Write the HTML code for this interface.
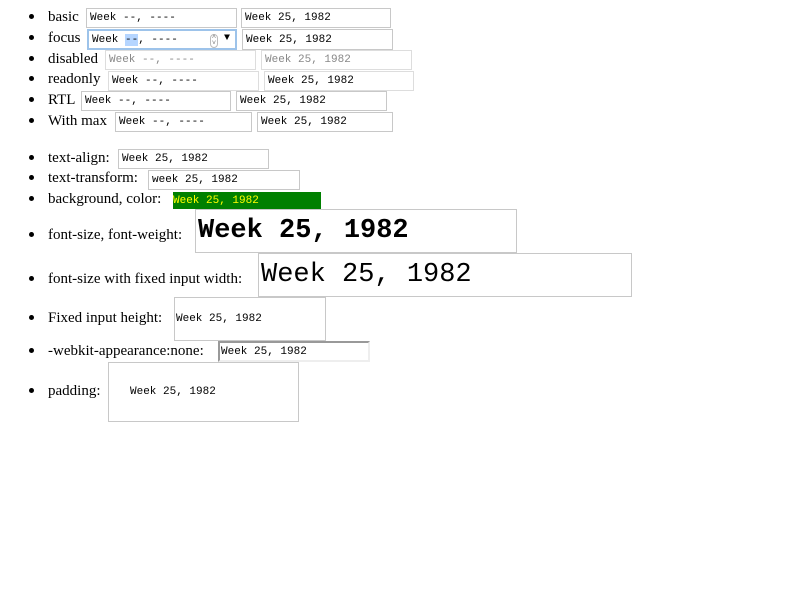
<!DOCTYPE html>
<html><head><meta charset="utf-8"><style>
body{margin:0;width:800px;height:600px;background:#fff;position:relative;overflow:hidden;font-family:"Liberation Serif",serif;font-size:15px;color:#000}
.l{position:absolute;line-height:18px;white-space:nowrap}
.l::before{content:"";position:absolute;left:-19px;top:6px;width:5px;height:5px;border-radius:50%;background:#000}
.b{position:absolute;box-sizing:border-box;border:1px solid #c8c8c8;font-family:"Liberation Mono",monospace;font-size:11px;padding-left:3px;display:flex;align-items:center;white-space:pre;background:#fff}
.d{color:#888;border-color:#ddd}
</style></head><body>
<div class="l" style="left:48px;top:8px">basic</div>
<div class="b" style="left:86px;top:8px;width:151px;height:20px">Week --, ----</div>
<div class="b" style="left:241px;top:8px;width:150px;height:20px">Week 25, 1982</div>

<div class="l" style="left:48px;top:29px">focus</div>
<div class="b" style="left:87px;top:29px;width:150px;height:21px;border:2px solid #9dc3ea">Week <span style="background:#b5d5ff">--</span>, ----<span style="position:absolute;left:121px;top:3px;font-size:7px;line-height:6px;color:#777;border:1px solid #bbb;border-radius:4px;width:6px;text-align:center">˄<br>˅</span><span style="position:absolute;left:135px;top:2px;font-size:10px">▼</span></div>
<div class="b" style="left:242px;top:29px;width:151px;height:21px">Week 25, 1982</div>

<div class="l" style="left:48px;top:50px">disabled</div>
<div class="b d" style="left:105px;top:50px;width:151px;height:20px">Week --, ----</div>
<div class="b d" style="left:261px;top:50px;width:151px;height:20px">Week 25, 1982</div>

<div class="l" style="left:48px;top:70px">readonly</div>
<div class="b" style="left:108px;top:71px;width:151px;height:20px;border-color:#ddd">Week --, ----</div>
<div class="b" style="left:264px;top:71px;width:150px;height:20px;border-color:#ddd">Week 25, 1982</div>

<div class="l" style="left:48px;top:91px">RTL</div>
<div class="b" style="left:81px;top:91px;width:150px;height:20px">Week --, ----</div>
<div class="b" style="left:236px;top:91px;width:151px;height:20px">Week 25, 1982</div>

<div class="l" style="left:48px;top:112px">With max</div>
<div class="b" style="left:115px;top:112px;width:137px;height:20px">Week --, ----</div>
<div class="b" style="left:257px;top:112px;width:136px;height:20px">Week 25, 1982</div>

<div class="l" style="left:48px;top:149px">text-align:</div>
<div class="b" style="left:118px;top:149px;width:151px;height:20px">Week 25, 1982</div>

<div class="l" style="left:48px;top:169px">text-transform:</div>
<div class="b" style="left:148px;top:170px;width:152px;height:20px">week 25, 1982</div>

<div class="l" style="left:48px;top:190px">background, color:</div>
<div class="b" style="left:173px;top:192px;width:148px;height:17px;background:#008000;color:#ff0;border:none;padding-left:0">Week 25, 1982</div>

<div class="l" style="left:48px;top:226px">font-size, font-weight:</div>
<div class="b" style="left:195px;top:209px;width:322px;height:44px;font-size:27px;font-weight:bold;padding-left:2px">Week 25, 1982</div>

<div class="l" style="left:48px;top:270px">font-size with fixed input width:</div>
<div class="b" style="left:258px;top:253px;width:374px;height:44px;font-size:27px;padding-left:2px">Week 25, 1982</div>

<div class="l" style="left:48px;top:309px">Fixed input height:</div>
<div class="b" style="left:174px;top:297px;width:152px;height:44px;padding-left:1px">Week 25, 1982</div>

<div class="l" style="left:48px;top:342px">-webkit-appearance:none:</div>
<div class="b" style="left:218px;top:341px;width:152px;height:21px;border:2px solid #eee;border-top-color:#999;border-left-color:#999;padding-left:1px">Week 25, 1982</div>

<div class="l" style="left:48px;top:382px">padding:</div>
<div class="b" style="left:108px;top:362px;width:191px;height:60px;padding-left:21px">Week 25, 1982</div>
</body></html>
